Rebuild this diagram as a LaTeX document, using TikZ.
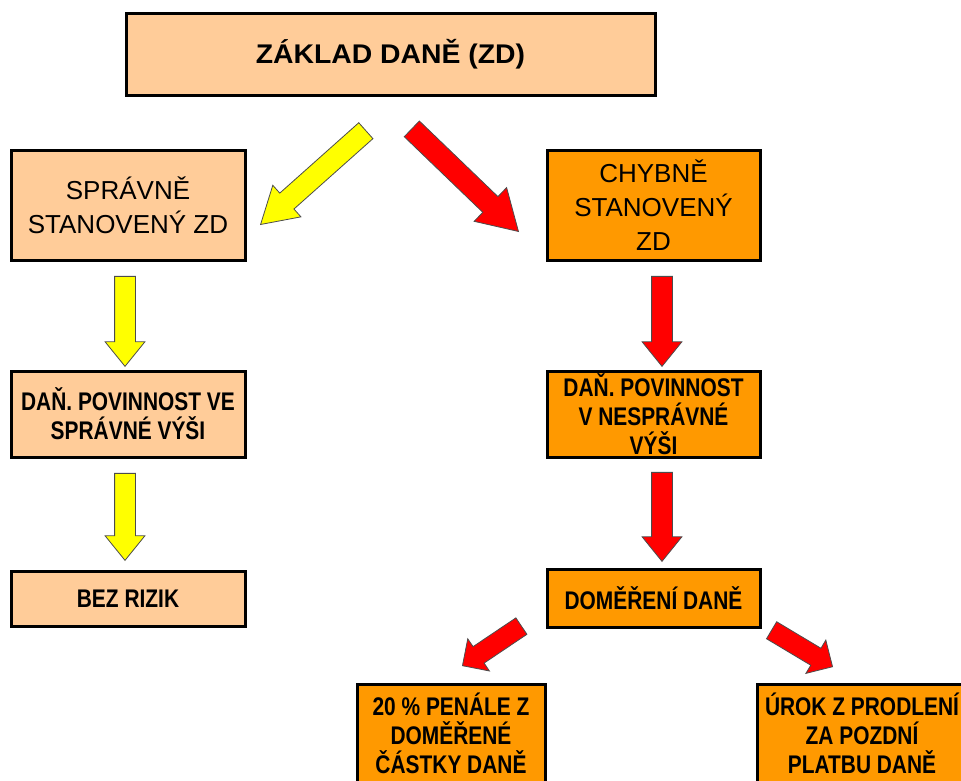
\documentclass[tikz,border=0pt]{standalone}
\usepackage{fontspec}
\setmainfont{Liberation Sans}
\newfontfamily\narrowfont[FakeStretch=0.82]{Liberation Sans}
\newfontfamily\widefont[FakeStretch=1.05]{Liberation Sans}
\usetikzlibrary{shapes.arrows,calc}
\definecolor{peach}{HTML}{FFCC99}
\definecolor{orangebox}{HTML}{FF9900}
\definecolor{arrowyellow}{HTML}{FFFF00}
\definecolor{arrowred}{HTML}{FF0000}
\begin{document}
\begin{tikzpicture}[x=1pt,y=-1pt,
    box/.style={draw=black,line width=3pt,align=center,inner sep=4pt},
    okbox/.style={box,fill=peach},
    badbox/.style={box,fill=orangebox},
    plaintext/.style={font=\fontsize{26}{34}\selectfont},
    narrowtext/.style={font=\narrowfont\bfseries\fontsize{25.5}{29}\selectfont},
    blockarrow/.style={single arrow,anchor=tip,draw=black!70,line width=0.8pt,inner xsep=0pt,inner ysep=10pt,single arrow head extend=9.5pt},
    yarrow/.style={blockarrow,fill=arrowyellow},
    rarrow/.style={blockarrow,fill=arrowred},
    downarrow/.style={single arrow tip angle=78,rotate=-90},
    slantarrow/.style={single arrow tip angle=62,single arrow head extend=10.5pt},
    smallarrow/.style={single arrow tip angle=90,inner ysep=9.5pt,single arrow head extend=9.5pt,minimum height=71pt}]
                \useasboundingbox (0,0) rectangle (961,780);
                \clip (0,0) rectangle (961,780);
                \node[okbox,font=\widefont\bfseries\fontsize{27}{32}\selectfont,minimum width=529pt,minimum height=82pt] (zd) at (390.5,54) {ZÁKLAD DANĚ (ZD)};
                \node[okbox,plaintext,minimum width=234pt,minimum height=110pt] (sprav) at (128,205) {SPRÁVNĚ\\STANOVENÝ ZD};
                \node[okbox,narrowtext,minimum width=234pt,minimum height=86pt] (danL) at (128,414) {DAŇ. POVINNOST VE\\SPRÁVNÉ VÝŠI};
                \node[okbox,narrowtext,minimum width=234pt,minimum height=55pt] (bez) at (128,599) {BEZ RIZIK};
                \node[badbox,plaintext,minimum width=213pt,minimum height=110pt] (chyb) at (653.5,205) {CHYBNĚ\\STANOVENÝ\\ZD};
                \node[badbox,narrowtext,inner ysep=1pt,minimum width=213pt,minimum height=86pt] (danR) at (653.5,414) {DAŇ. POVINNOST\\V NESPRÁVNÉ\\VÝŠI};
                \node[badbox,narrowtext,minimum width=213pt,minimum height=58pt] (domer) at (653.5,598) {DOMĚŘENÍ DANĚ};
                \node[badbox,narrowtext,anchor=north,inner ysep=8pt,minimum width=188pt] (penale) at (451,683) {20 \% PENÁLE Z\\DOMĚŘENÉ\\ČÁSTKY DANĚ\rule[-16pt]{0pt}{1pt}};
                \node[badbox,narrowtext,anchor=north,inner ysep=8pt,minimum width=210pt] (urok) at (862,683) {ÚROK Z PRODLENÍ\\ZA POZDNÍ\\PLATBU DANĚ\rule[-16pt]{0pt}{1pt}};
                \node[yarrow,downarrow,minimum height=90pt] (ya1) at (125,367) {};
                \node[yarrow,downarrow,minimum height=87pt] (ya2) at (125,561) {};
                \node[rarrow,downarrow,minimum height=90pt] (ra1) at (662,367) {};
                \node[rarrow,downarrow,minimum height=89pt] (ra2) at (662,562) {};
                \node[yarrow,slantarrow,inner ysep=10.25pt,minimum height=141pt,rotate=221.7] (ya0) at (260,225) {};
                \node[rarrow,slantarrow,inner ysep=10.5pt,single arrow head extend=12.5pt,minimum height=148pt,rotate=-43.9] (ra0) at (519,232) {};
                \node[rarrow,smallarrow,rotate=213.9] (ra3) at (462,666) {};
                \node[rarrow,smallarrow,rotate=-30.9] (ra4) at (833,667) {};
            \end{tikzpicture}
\end{document}
